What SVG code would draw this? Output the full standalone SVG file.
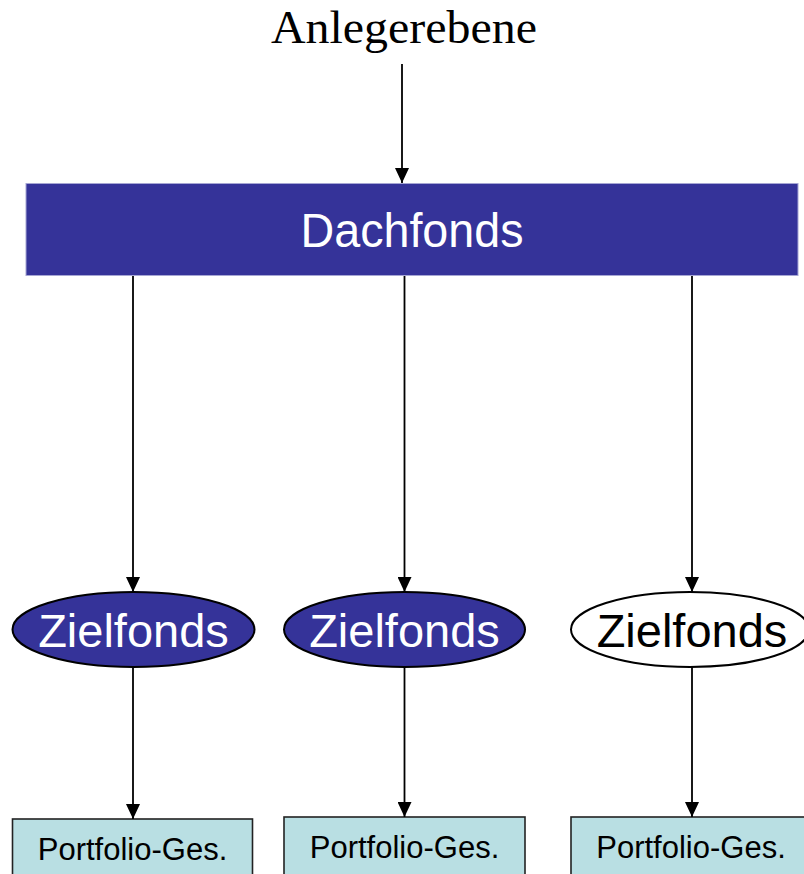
<svg xmlns="http://www.w3.org/2000/svg" width="804" height="874" viewBox="0 0 804 874">
<style>
.conn{stroke:#000;stroke-width:1.8;fill:none;marker-end:url(#ah)}
.ell{stroke:#000;stroke-width:2}
.dark{fill:#353399}
.light{fill:#fff}
.box{fill:#b9dfe3;stroke:#222;stroke-width:1.6}
.sans{font-family:"Liberation Sans",Arial,sans-serif;text-anchor:middle}
</style>
<defs>
<marker id="ah" markerUnits="userSpaceOnUse" markerWidth="16" markerHeight="14" refX="15" refY="7" orient="auto">
<path d="M0,0 L15,7 L0,14 z" fill="#000"/>
</marker>
</defs>
<rect width="804" height="874" fill="#fff"/>
<g id="anlegerebene">
<text x="404" y="43" font-family="'Liberation Serif','Times New Roman',serif" font-size="47" text-anchor="middle" textLength="266" lengthAdjust="spacingAndGlyphs">Anlegerebene</text>
</g>
<g id="dachfonds">
<rect x="26" y="183.5" width="772" height="92" class="dark" stroke="#a6a6d4" stroke-width="1"/>
<text x="412" y="247" class="sans" font-size="48" fill="#fff" textLength="223" lengthAdjust="spacingAndGlyphs">Dachfonds</text>
</g>
<g id="zielfonds1">
<ellipse cx="133.5" cy="629.5" rx="121" ry="37.5" class="ell dark"/>
<text x="133.5" y="647" class="sans" font-size="47" fill="#fff">Zielfonds</text>
</g>
<g id="zielfonds2">
<ellipse cx="404.5" cy="629.5" rx="120.5" ry="37.5" class="ell dark"/>
<text x="404.5" y="647" class="sans" font-size="47" fill="#fff">Zielfonds</text>
</g>
<g id="zielfonds3">
<ellipse cx="690" cy="629.5" rx="119" ry="37.5" class="ell light"/>
<text x="692" y="647" class="sans" font-size="47" fill="#000">Zielfonds</text>
</g>
<g id="portfolio1">
<rect x="12.5" y="819" width="240" height="70" class="box"/>
<text x="132.5" y="860" class="sans" font-size="31" fill="#000">Portfolio-Ges.</text>
</g>
<g id="portfolio2">
<rect x="284" y="817" width="241" height="70" class="box"/>
<text x="404.5" y="858" class="sans" font-size="31" fill="#000">Portfolio-Ges.</text>
</g>
<g id="portfolio3">
<rect x="571" y="817" width="241" height="70" class="box"/>
<text x="691" y="858" class="sans" font-size="31" fill="#000">Portfolio-Ges.</text>
</g>
<g id="connectors">
<line x1="402" y1="64" x2="402" y2="183" class="conn"/>
<line x1="133" y1="276" x2="133" y2="592" class="conn"/>
<line x1="404.5" y1="276" x2="404.5" y2="592" class="conn"/>
<line x1="692" y1="276" x2="692" y2="592" class="conn"/>
<line x1="133" y1="667" x2="133" y2="819" class="conn"/>
<line x1="404.5" y1="667" x2="404.5" y2="817" class="conn"/>
<line x1="692" y1="667" x2="692" y2="817" class="conn"/>
</g>
</svg>
